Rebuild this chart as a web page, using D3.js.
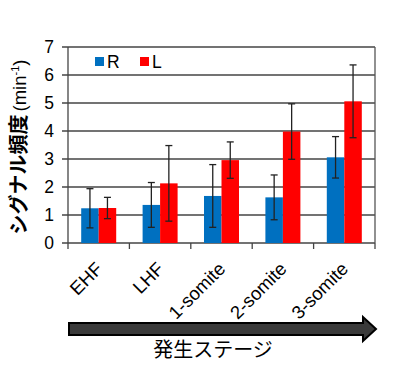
<!DOCTYPE html>
<html><head><meta charset="utf-8">
<script src="https://cdn.jsdelivr.net/npm/d3@7"></script>
<style>body{margin:0;background:#fff}</style>
</head><body><svg id="c" width="400" height="372"></svg>
<script>
const categories = ["EHF","LHF","1-somite","2-somite","3-somite"];
const seriesNames = ["R","L"];
const valuesR = [1.24,1.36,1.68,1.63,3.06];
const errR    = [0.70,0.80,1.12,0.80,0.74];
const valuesL = [1.25,2.13,2.96,3.98,5.06];
const errL    = [0.38,1.35,0.65,0.99,1.30];
const yTicks = [0,1,2,3,4,5,6,7];
const colors = ["#0070C0","#FF0000"];

const svg = d3.select("#c");
const fontLatin = "'Liberation Sans', Arial, sans-serif";
const fontJP = "'Noto Sans CJK JP', sans-serif";
const m = {l:68, r:375, t:47, b:243};
const x = d3.scaleBand().domain(categories).range([m.l,m.r]).paddingInner(0).paddingOuter(0);
const y = d3.scaleLinear().domain([0,7]).range([m.b,m.t]);
const barW = 17.5;

// gridlines
svg.append("g").selectAll("line").data(yTicks).join("line")
  .attr("x1",62).attr("x2",m.r).attr("y1",d=>y(d)).attr("y2",d=>y(d))
  .attr("stroke","#444").attr("stroke-width",1.3);
// right border
svg.append("line").attr("x1",m.r).attr("x2",m.r).attr("y1",m.t).attr("y2",m.b)
  .attr("stroke","#555").attr("stroke-width",1.3);
// y axis line
svg.append("line").attr("x1",m.l).attr("x2",m.l).attr("y1",m.t).attr("y2",m.b+6)
  .attr("stroke","#444").attr("stroke-width",1.3);
// x ticks
svg.append("g").selectAll("line").data(categories).join("line")
  .attr("x1",(d,i)=>m.l+(i+1)*x.bandwidth()).attr("x2",(d,i)=>m.l+(i+1)*x.bandwidth())
  .attr("y1",m.b).attr("y2",m.b+6).attr("stroke","#444").attr("stroke-width",1.3);

// y tick labels
svg.append("g").selectAll("text").data(yTicks).join("text")
  .attr("x",54).attr("y",d=>y(d)+6).attr("text-anchor","end")
  .attr("font-family",fontLatin).attr("font-size",17.5).attr("fill","#000").text(d=>d);

// bars
const series = [valuesR, valuesL];
const errs = [errR, errL];
series.forEach((vals,s)=>{
  const g = svg.append("g");
  g.selectAll("rect").data(vals).join("rect")
    .attr("x",(d,i)=>x(categories[i])+x.bandwidth()/2-barW+s*barW)
    .attr("y",d=>y(d)).attr("width",barW).attr("height",d=>y(0)-y(d))
    .attr("fill",colors[s]);
});
series.forEach((vals,s)=>{
  const g = svg.append("g");
  vals.forEach((v,i)=>{
    const cx = x(categories[i])+x.bandwidth()/2-barW/2+s*barW;
    const e = errs[s][i];
    g.append("line").attr("x1",cx).attr("x2",cx).attr("y1",y(v+e)).attr("y2",y(v-e))
      .attr("stroke","#222").attr("stroke-width",1.3);
    [v+e,v-e].forEach(t=>g.append("line").attr("x1",cx-3.5).attr("x2",cx+3.5)
      .attr("y1",y(t)).attr("y2",y(t)).attr("stroke","#222").attr("stroke-width",1.3));
  });
});

// x labels
svg.append("g").selectAll("text").data(categories).join("text")
  .attr("transform",d=>`translate(${x(d)+x.bandwidth()/2+5},${m.b+27}) rotate(-45)`)
  .attr("text-anchor","end").attr("font-family",fontLatin).attr("font-size",18.5)
  .attr("fill","#000").text(d=>d);

// legend
const legX = [95,140];
seriesNames.forEach((n,i)=>{
  svg.append("rect").attr("x",legX[i]).attr("y",57).attr("width",9).attr("height",9).attr("fill",colors[i]);
  svg.append("text").attr("x",legX[i]+12).attr("y",68).attr("font-family",fontLatin)
    .attr("font-size",17.5).attr("fill","#000").text(n);
});

// y title
const yt = svg.append("text").attr("transform","translate(26,147) rotate(-90)")
  .attr("text-anchor","middle").attr("fill","#000");
yt.append("tspan").attr("font-family",fontJP).attr("font-weight","bold").attr("font-size",20).text("シグナル頻度");
yt.append("tspan").attr("font-family",fontLatin).attr("font-size",18.5).attr("dx",3).text("(min");
yt.append("tspan").attr("font-family",fontLatin).attr("font-size",11).attr("dy",-7).text("-1");
yt.append("tspan").attr("font-family",fontLatin).attr("font-size",18.5).attr("dy",7).text(")");

// arrow
const ax0=69, ax1=363, tip=376, cy=329, hh=6, ah=12;
svg.append("path").attr("d",`M${ax0},${cy-hh}L${ax1},${cy-hh}L${ax1},${cy-ah}L${tip},${cy}L${ax1},${cy+ah}L${ax1},${cy+hh}L${ax0},${cy+hh}Z`)
  .attr("fill","#3a3a3a").attr("stroke","#000").attr("stroke-width",2).attr("stroke-linejoin","miter");
svg.append("text").attr("x",213).attr("y",357).attr("text-anchor","middle")
  .attr("font-family",fontJP).attr("font-size",20).attr("fill","#000").text("発生ステージ");
</script></body></html>
